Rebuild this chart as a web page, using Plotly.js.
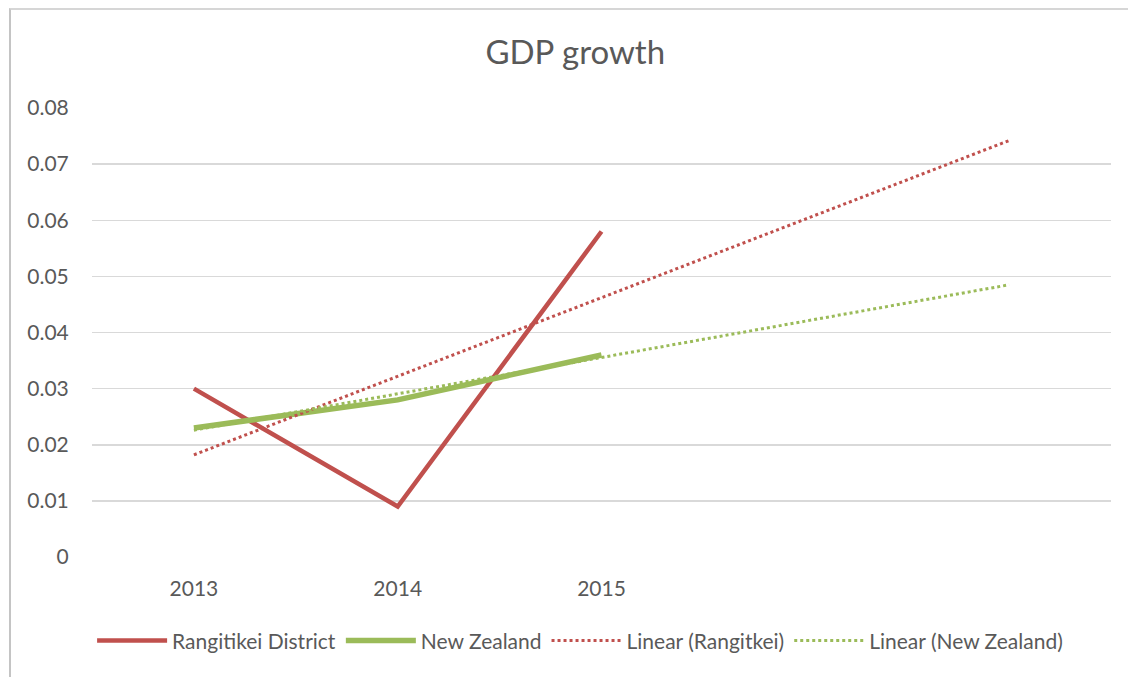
<!DOCTYPE html>
<html>
<head>
<meta charset="utf-8">
<script src="https://cdn.plot.ly/plotly-3.0.1.min.js"></script>
<style>
  html, body { margin: 0; padding: 0; background: #ffffff; }
  #wrap { position: relative; width: 1128px; height: 677px; }
  #frame { position: absolute; left: 9px; top: 8px; right: 0; bottom: 0;
           border-left: 2px solid #c4c4c4; border-top: 2px solid #d6d6d6; pointer-events: none; z-index: 5; }
  #chart { position: absolute; left: 0; top: 0; width: 1128px; height: 677px; }
</style>
</head>
<body>
<div id="wrap">
  <div id="chart"></div>
  <div id="frame"></div>
</div>
<script>
// Categories (2016 and 2017 carry only the trendline forecast)
const categories = ['2013', '2014', '2015', '2016', '2017'];
const shownTicks = ['2013', '2014', '2015'];

// Series values
const rangitikeiYears = ['2013', '2014', '2015'];
const rangitikeiValues = [0.030, 0.009, 0.058];

const nzYears = ['2013', '2014', '2015'];
const nzValues = [0.023, 0.028, 0.036];

// Trendline endpoints
const trendYears = ['2013', '2017'];
const rangitikeiTrend = [0.0182, 0.0742];
const nzTrend = [0.0226, 0.0485];

const yTicks = [0, 0.01, 0.02, 0.03, 0.04, 0.05, 0.06, 0.07, 0.08];
const yTickText = ['0', '0.01', '0.02', '0.03', '0.04', '0.05', '0.06', '0.07', '0.08'];

const RED = '#C0504D';
const GREEN = '#9BBB59';
const TEXT = '#595959';
const FONT = 'Lato, "Open Sans", sans-serif';

const traces = [
  { x: rangitikeiYears, y: rangitikeiValues, name: 'Rangitikei District', mode: 'lines',
    line: { color: RED, width: 4.5 } },
  { x: nzYears, y: nzValues, name: 'New Zealand', mode: 'lines',
    line: { color: GREEN, width: 5.5 } },
  { x: trendYears, y: rangitikeiTrend, name: 'Linear (Rangitkei)', mode: 'lines',
    line: { color: RED, width: 3, dash: 'dot' } },
  { x: trendYears, y: nzTrend, name: 'Linear (New Zealand)', mode: 'lines',
    line: { color: GREEN, width: 3, dash: 'dot' } }
];

const layout = {
  width: 1128, height: 677,
  paper_bgcolor: '#ffffff', plot_bgcolor: '#ffffff',
  font: { family: FONT, color: TEXT, size: 21 },
  margin: { l: 92, r: 17, t: 108, b: 120 },
  title: { text: 'GDP growth', x: 0.51, xanchor: 'center', y: 0.922, yanchor: 'middle',
           xref: 'container', yref: 'container',
           font: { size: 33, color: TEXT, family: FONT } },
  showlegend: true,
  legend: { orientation: 'h', x: 0.479, xanchor: 'center', y: -0.187, yanchor: 'middle',
            font: { size: 21, color: TEXT, family: FONT }, traceorder: 'normal', itemwidth: 70 },
  xaxis: {
    type: 'category', categoryorder: 'array', categoryarray: categories,
    range: [-0.5, 4.5], tickvals: shownTicks, ticktext: shownTicks,
    showgrid: false, zeroline: false, showline: false,
    ticks: 'outside', ticklen: 13, tickcolor: 'rgba(0,0,0,0)',
    tickfont: { size: 21, color: TEXT, family: FONT }, fixedrange: true
  },
  yaxis: {
    range: [0, 0.08], tickvals: yTicks, ticktext: yTickText,
    showgrid: true, gridcolor: '#d9d9d9', gridwidth: 1.5,
    zeroline: false, showline: false,
    ticks: 'outside', ticklen: 18, tickcolor: 'rgba(0,0,0,0)',
    tickfont: { size: 21, color: TEXT, family: FONT }, fixedrange: true
  },
  hovermode: false
};

Plotly.newPlot('chart', traces, layout, { displayModeBar: false, staticPlot: true });
</script>
</body>
</html>
